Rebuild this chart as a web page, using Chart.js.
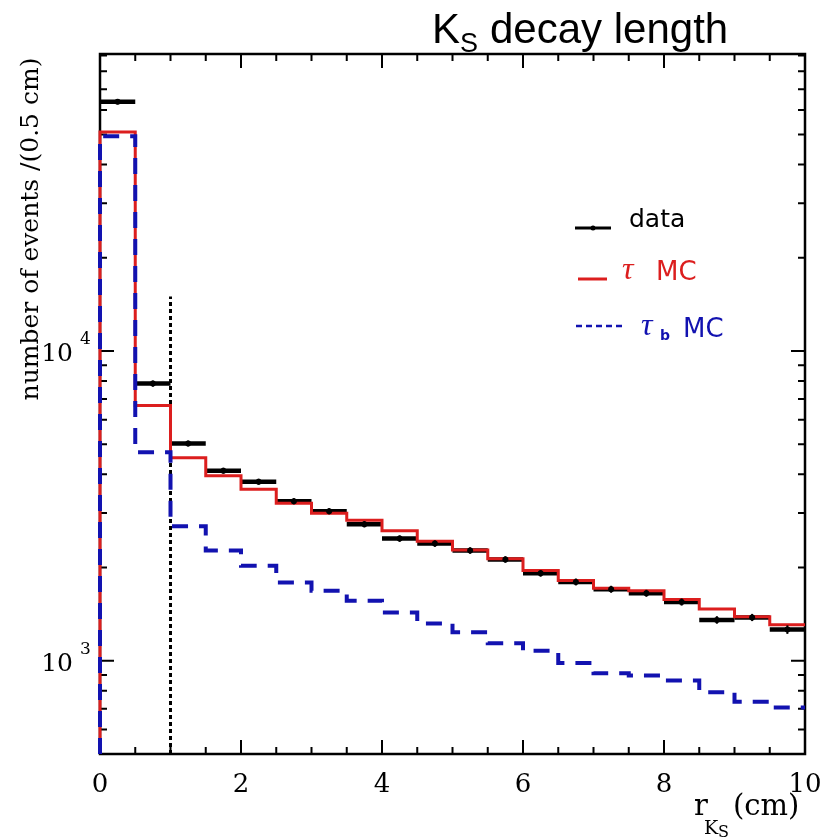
<!DOCTYPE html>
<html>
<head>
<meta charset="utf-8">
<script src="https://cdn.jsdelivr.net/npm/chart.js@4/dist/chart.umd.min.js"></script>
<style>
  html, body { margin: 0; padding: 0; background: #fff; }
  #wrap { width: 823px; height: 839px; }
</style>
</head>
<body>
<div id="wrap"><canvas id="ksChart" width="823" height="839"></canvas></div>
<script>
// r_KS bins, 0.5 cm wide, left edges
const binWidth = 0.5;
const binLow = [0, 0.5, 1, 1.5, 2, 2.5, 3, 3.5, 4, 4.5, 5, 5.5, 6, 6.5, 7, 7.5, 8, 8.5, 9, 9.5];

// events per bin
const dataCounts = [63800, 7850, 5030, 4110, 3785, 3275, 3040, 2760, 2480, 2390,
                    2270, 2124, 1916, 1797, 1702, 1652, 1548, 1355, 1380, 1261];
const dataErr    = [1200, 180, 110, 90, 85, 75, 70, 65, 60, 58,
                    55, 52, 48, 46, 44, 43, 41, 38, 37, 40];
const tauMC      = [51000, 6670, 4520, 3960, 3580, 3228, 2994, 2840, 2630, 2430,
                    2280, 2134, 1955, 1815, 1715, 1683, 1578, 1469, 1388, 1306];
const tauBMC     = [49400, 4710, 2717, 2270, 2028, 1790, 1683, 1563, 1432, 1320,
                    1236, 1140, 1077, 984, 912, 897, 864, 792, 738, 706];

// axes
const xMin = 0, xMax = 10;
const yMin = 500, yMax = 91000;
const xMajorTicks = [0, 2, 4, 6, 8, 10];
const yDecades = [1000, 10000];

// cut marker
const cutX = 1;
const cutTop = 15000;

const RED = '#dc1e1e';
const BLUE = '#1212b0';
const SERIF = '"DejaVu Serif", "Liberation Serif", serif';

function histPoints(vals) {
  const pts = [{ x: binLow[0], y: yMin }];
  binLow.forEach((lo, i) => pts.push({ x: lo, y: vals[i] }));
  pts.push({ x: binLow[binLow.length - 1] + binWidth, y: vals[vals.length - 1] });
  return pts;
}

function halfBinPx(c) {
  const s = c.chart.scales.x;
  return (s.getPixelForValue(binWidth) - s.getPixelForValue(0)) / 2;
}

// frame with inward ticks on all four sides
const framePlugin = {
  id: 'frame',
  beforeDatasetsDraw(chart) {
    const { ctx, chartArea: a, scales: { x, y } } = chart;
    ctx.save();
    ctx.strokeStyle = '#000';
    ctx.lineWidth = 2;
    ctx.beginPath();
    for (let v = xMin; v <= xMax + 1e-9; v += binWidth) {
      const px = x.getPixelForValue(v);
      const len = xMajorTicks.includes(v) ? 14 : 7;
      ctx.moveTo(px, a.bottom); ctx.lineTo(px, a.bottom - len);
      ctx.moveTo(px, a.top); ctx.lineTo(px, a.top + len);
    }
    [100, 1000, 10000].forEach(dec => {
      for (let m = 1; m <= 9; m++) {
        const v = m * dec;
        if (v < yMin || v > yMax) continue;
        const py = y.getPixelForValue(v);
        const len = m === 1 ? 14 : 7;
        ctx.moveTo(a.left, py); ctx.lineTo(a.left + len, py);
        ctx.moveTo(a.right, py); ctx.lineTo(a.right - len, py);
      }
    });
    ctx.stroke();
    ctx.lineWidth = 2.5;
    ctx.strokeRect(a.left, a.top, a.right - a.left, a.bottom - a.top);
    ctx.restore();
  }
};

// error bars and markers on the data points
const errorPlugin = {
  id: 'errors',
  afterDatasetsDraw(chart) {
    const { ctx, scales: { x, y } } = chart;
    ctx.save();
    ctx.strokeStyle = '#000';
    ctx.fillStyle = '#000';
    ctx.lineWidth = 2;
    binLow.forEach((lo, i) => {
      const px = x.getPixelForValue(lo + binWidth / 2);
      ctx.beginPath();
      ctx.moveTo(px, y.getPixelForValue(dataCounts[i] + dataErr[i]));
      ctx.lineTo(px, y.getPixelForValue(dataCounts[i] - dataErr[i]));
      ctx.stroke();
      ctx.beginPath();
      ctx.arc(px, y.getPixelForValue(dataCounts[i]), 3, 0, Math.PI * 2);
      ctx.fill();
    });
    ctx.restore();
  }
};

// title, axis labels, tick labels and legend
const textPlugin = {
  id: 'texts',
  afterDraw(chart) {
    const { ctx, scales: { x, y } } = chart;
    ctx.save();
    ctx.fillStyle = '#000';
    ctx.textBaseline = 'alphabetic';

    // title
    ctx.textAlign = 'left';
    ctx.font = '42px "Liberation Sans", Arial, sans-serif';
    ctx.fillText('K', 432, 43);
    ctx.font = '27px "Liberation Sans", Arial, sans-serif';
    ctx.fillText('S', 460, 52);
    ctx.font = '42px "Liberation Sans", Arial, sans-serif';
    ctx.fillText('decay length', 490, 43);

    // x tick labels
    ctx.font = '26px ' + SERIF;
    ctx.textAlign = 'center';
    xMajorTicks.forEach(v => ctx.fillText(String(v), x.getPixelForValue(v), 792));

    // y tick labels 10^n
    yDecades.forEach(v => {
      const py = y.getPixelForValue(v);
      ctx.textAlign = 'right';
      ctx.font = '25px ' + SERIF;
      ctx.fillText('10', 73, py + 10);
      ctx.textAlign = 'left';
      ctx.font = '17px ' + SERIF;
      ctx.fillText(String(Math.round(Math.log10(v))), 80, py - 7);
    });

    // x axis title
    ctx.textAlign = 'left';
    ctx.font = '29px ' + SERIF;
    ctx.fillText('r', 694, 815);
    ctx.font = '19px ' + SERIF;
    ctx.fillText('K', 704, 834);
    ctx.font = '16px ' + SERIF;
    ctx.fillText('S', 718, 837);
    ctx.font = '29px ' + SERIF;
    ctx.fillText('(cm)', 733, 815);

    // y axis title
    ctx.save();
    ctx.translate(31, 229);
    ctx.rotate(-Math.PI / 2);
    ctx.textAlign = 'center';
    ctx.textBaseline = 'middle';
    ctx.font = '25px ' + SERIF;
    ctx.fillText('number of events /(0.5 cm)', 0, 0);
    ctx.restore();

    // legend
    ctx.textAlign = 'left';
    ctx.lineCap = 'butt';
    ctx.strokeStyle = '#000';
    ctx.lineWidth = 3;
    ctx.beginPath(); ctx.moveTo(575, 228); ctx.lineTo(611, 228); ctx.stroke();
    ctx.beginPath(); ctx.arc(593, 228, 2.5, 0, Math.PI * 2); ctx.fill();
    ctx.font = '25px "DejaVu Sans", sans-serif';
    ctx.fillText('data', 629, 227);

    ctx.strokeStyle = RED;
    ctx.fillStyle = RED;
    ctx.beginPath(); ctx.moveTo(578, 279); ctx.lineTo(607, 279); ctx.stroke();
    ctx.font = 'italic 32px "Liberation Serif", serif';
    ctx.fillText('\u03C4', 622, 279);
    ctx.font = '26px "DejaVu Sans", sans-serif';
    ctx.fillText('MC', 656, 280);

    ctx.strokeStyle = BLUE;
    ctx.fillStyle = BLUE;
    ctx.lineWidth = 2.5;
    ctx.setLineDash([6, 4]);
    ctx.beginPath(); ctx.moveTo(576, 326); ctx.lineTo(623, 326); ctx.stroke();
    ctx.setLineDash([]);
    ctx.font = 'italic 32px "Liberation Serif", serif';
    ctx.fillText('\u03C4', 641, 335);
    ctx.font = 'bold 14px "DejaVu Sans", sans-serif';
    ctx.fillText('b', 660, 340);
    ctx.font = '26px "DejaVu Sans", sans-serif';
    ctx.fillText('MC', 683, 337);

    ctx.restore();
  }
};

const ctx = document.getElementById('ksChart').getContext('2d');
const ksChart = new Chart(ctx, {
  type: 'line',
  data: {
    datasets: [
      {
        label: 'tau_b MC',
        data: histPoints(tauBMC),
        stepped: 'before',
        borderColor: BLUE,
        borderWidth: 4,
        borderDash: [16, 11],
        pointRadius: 0,
        fill: false,
        clip: 6
      },
      {
        label: 'tau MC',
        data: histPoints(tauMC),
        stepped: 'before',
        borderColor: RED,
        borderWidth: 3,
        pointRadius: 0,
        fill: false,
        clip: 6
      },
      {
        label: 'data',
        data: binLow.map((lo, i) => ({ x: lo + binWidth / 2, y: dataCounts[i] })),
        showLine: false,
        pointStyle: 'line',
        pointRadius: halfBinPx,
        pointHoverRadius: halfBinPx,
        pointBorderWidth: 4.5,
        pointBorderColor: '#000',
        pointBackgroundColor: '#000',
        clip: 6
      },
      {
        label: 'cut',
        data: [{ x: cutX, y: yMin }, { x: cutX, y: cutTop }],
        borderColor: '#000',
        borderWidth: 3,
        borderDash: [4, 3],
        pointRadius: 0,
        fill: false,
        clip: 6
      }
    ]
  },
  options: {
    responsive: false,
    animation: false,
    devicePixelRatio: 1,
    layout: { padding: { left: 100, right: 18, top: 54, bottom: 85 } },
    scales: {
      x: { type: 'linear', min: xMin, max: xMax, display: false },
      y: { type: 'logarithmic', min: yMin, max: yMax, display: false }
    },
    plugins: {
      legend: { display: false },
      tooltip: { enabled: false }
    }
  },
  plugins: [framePlugin, errorPlugin, textPlugin]
});
</script>
</body>
</html>
